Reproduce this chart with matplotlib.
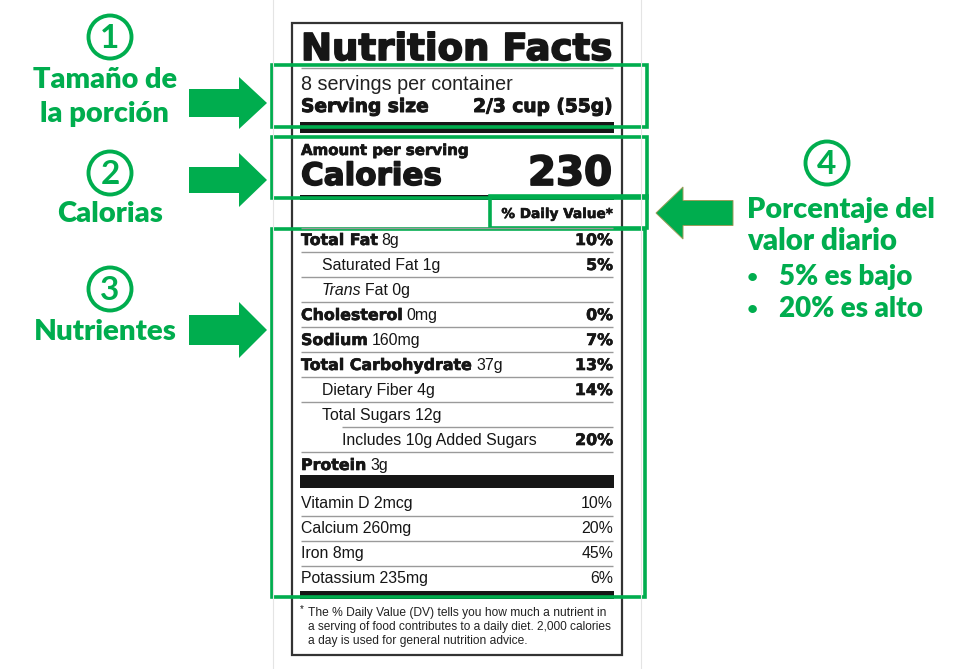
import matplotlib
matplotlib.use("Agg")
import matplotlib.pyplot as plt
import matplotlib.patheffects as pe
from matplotlib.patches import Rectangle, Circle, Polygon

# ---------------------------------------------------------
# label data
# ---------------------------------------------------------
title = "Nutrition Facts"
servings = "8 servings per container"
serving_size = "2/3 cup (55g)"
calories = "230"

nutrients = ["Total Fat", "Saturated Fat", "Trans Fat", "Cholesterol", "Sodium",
             "Total Carbohydrate", "Dietary Fiber", "Total Sugars",
             "Includes 10g Added Sugars", "Protein"]
amounts = ["8g", "1g", "0g", "0mg", "160mg", "37g", "4g", "12g", "", "3g"]
daily_values = ["10%", "5%", "", "0%", "7%", "13%", "14%", "", "20%", ""]
levels = [0, 1, 1, 0, 0, 0, 1, 1, 2, 0]

vitamins = ["Vitamin D", "Calcium", "Iron", "Potassium"]
vitamin_amounts = ["2mcg", "260mg", "8mg", "235mg"]
vitamin_dv = ["10%", "20%", "45%", "6%"]

footnote = ["The % Daily Value (DV) tells you how much a nutrient in",
            "a serving of food contributes to a daily diet. 2,000 calories",
            "a day is used for general nutrition advice."]

# annotations (spanish)
notes_left = [("1", ["Tamaño de", "la porción"]),
              ("2", ["Calorias"]),
              ("3", ["Nutrientes"])]
note_right_num = "4"
note_right = ["Porcentaje del", "valor diario"]
note_bullets = ["5% es bajo", "20% es alto"]

# ---------------------------------------------------------
# setup: one axes in pixel units
# ---------------------------------------------------------
W, H = 967, 669
fig = plt.figure(figsize=(W / 100, H / 100), dpi=100)
ax = fig.add_axes([0, 0, 1, 1])
ax.set_xlim(0, W)
ax.set_ylim(H, 0)
ax.axis("off")
renderer = fig.canvas.get_renderer()

INK = "#161616"
GREEN = "#00AD4E"
GRAY = "#9a9a9a"
REG = "Liberation Sans"
BLK = "DejaVu Sans"

L, R = 301, 613  # inner text edges of the label


def heavy(w):
    return [pe.withStroke(linewidth=w, foreground=INK)]


def width(t):
    return t.get_window_extent(renderer).width


def fit(t, target):
    t.set_fontsize(t.get_fontsize() * target / width(t))
    return t


def run(x, y, parts, size, gap=3.6):
    for s, fam, wt, st in parts:
        t = ax.text(x, y, s, fontsize=size, family=fam, weight=wt, style=st,
                    va="baseline", ha="left", color=INK,
                    path_effects=heavy(0.45) if wt == "bold" else None)
        x += width(t) + gap


def bold(x, y, s, size, stroke=0.45, **kw):
    return ax.text(x, y, s, family=BLK, weight="bold", fontsize=size, color=INK,
                   va="baseline", path_effects=heavy(stroke), **kw)


def hline(y, x0=L, x1=R, lw=1.0, c=GRAY):
    ax.plot([x0, x1], [y, y], color=c, lw=lw, solid_capstyle="butt")


def bar(y0, y1):
    ax.add_patch(Rectangle((L - 1, y0), R - L + 2, y1 - y0, color=INK, lw=0))


# faint page edges
for xp in (273, 641):
    ax.plot([xp, xp], [0, H], color="#e4e4e4", lw=0.8)

# label frame
ax.add_patch(Rectangle((292, 23), 330, 632, fill=False, ec="#333333", lw=1.6))

# header
t = bold(L, 60, title, 26.6, stroke=1.2)
fit(t, R - L - 1)
hline(68)
t = ax.text(L, 90, servings, family=REG, fontsize=14.3, color="#222222", va="baseline")
fit(t, 212)
bold(L, 112, "Serving size", 13.4, stroke=0.7)
bold(R, 112, serving_size, 13.4, stroke=0.7, ha="right")
bar(122, 133)

bold(L, 155, "Amount per serving", 10.8, stroke=0.5)
bold(L, 185, "Calories", 22.3, stroke=1.1)
bold(R - 1, 185, calories, 29.0, stroke=1.3, ha="right")
bar(195, 200)
bold(R, 218, "% Daily Value*", 9.8, stroke=0.4, ha="right")
hline(228)

# nutrient rows
FS = 11.4
indent = {0: L, 1: 322, 2: 342}
for i, (name, amt, dv, lv) in enumerate(zip(nutrients, amounts, daily_values, levels)):
    yb = 245 + 25 * i
    if lv == 0:
        parts = [(name, BLK, "bold", "normal")]
        if amt:
            parts.append((amt, REG, "normal", "normal"))
    elif name.startswith("Trans"):
        parts = [("Trans", REG, "normal", "italic"),
                 (name[6:] + " " + amt, REG, "normal", "normal")]
    else:
        parts = [((name + " " + amt).strip(), REG, "normal", "normal")]
    run(indent[lv], yb, parts, FS)
    if dv:
        bold(R, yb, dv, FS, ha="right")
    if i < len(nutrients) - 1:
        hline(252 + 25 * i, x0=indent[2] if lv == 1 and levels[i + 1] == 2 else L)

bar(475, 488)

for j, (name, amt, dv) in enumerate(zip(vitamins, vitamin_amounts, vitamin_dv)):
    yb = 508 + 25 * j
    run(L, yb, [(name + " " + amt, REG, "normal", "normal")], FS)
    ax.text(R, yb, dv, family=REG, fontsize=FS, color=INK, va="baseline", ha="right")
    if j < len(vitamins) - 1:
        hline(516 + 25 * j)

bar(591, 599)

# footnote
ax.text(L - 1, 612, "*", family=REG, fontsize=7, color=INK, va="baseline")
fw = [297, 304, 218]
for k, line in enumerate(footnote):
    t = ax.text(308, 616 + 14 * k, line, family=REG, fontsize=7.5, color="#222222",
                va="baseline")
    fit(t, fw[k])

# ---------------------------------------------------------
# green highlight boxes
# ---------------------------------------------------------
for (x0, y0, x1, y1) in [(272, 65, 647, 127), (272, 137, 647, 198),
                         (490, 196, 647, 228), (272, 229, 645, 597)]:
    ax.add_patch(Rectangle((x0, y0), x1 - x0, y1 - y0, fill=False, ec=GREEN, lw=2.6))


def arrow_right(tip_x, tip_y, tail_x, half_shaft, half_head, head_len):
    bx = tip_x - head_len
    pts = [(tail_x, tip_y - half_shaft), (bx, tip_y - half_shaft), (bx, tip_y - half_head),
           (tip_x, tip_y), (bx, tip_y + half_head), (bx, tip_y + half_shaft),
           (tail_x, tip_y + half_shaft)]
    return pts


ax.add_patch(Polygon(arrow_right(267, 103, 189, 14, 26, 28), color=GREEN, lw=0))
ax.add_patch(Polygon(arrow_right(267, 180, 189, 13, 27, 28), color=GREEN, lw=0))
ax.add_patch(Polygon(arrow_right(267, 330, 189, 15, 28, 28), color=GREEN, lw=0))
# left-pointing arrow (mirror of a right one)
pts = [(2 * 695 - x, y) for x, y in arrow_right(734, 213, 657, 12.5, 26, 27)]
ax.add_patch(Polygon(pts, fc=GREEN, ec="#9c9c5a", lw=0.7))

# ---------------------------------------------------------
# annotation text
# ---------------------------------------------------------
ANN = "Lato"
AWT = "heavy"


def badge(cx, cy, num):
    ax.add_patch(Circle((cx, cy), 21.5, fill=False, ec=GREEN, lw=2.8))
    ax.text(cx, cy + 1, num, family=ANN, weight="bold", fontsize=24, color=GREEN,
            ha="center", va="center")


badge_pos = [(110, 37), (110, 173), (110, 289)]
text_base = [[88, 122], [222], [340]]
text_w = [[144, 129], [106], [143]]
text_cx = [[105, 104], [110], [105]]
for (num, lines), (bx, by), bases, ws, cxs in zip(notes_left, badge_pos, text_base,
                                                  text_w, text_cx):
    badge(bx, by, num)
    for s, yb, w, cx in zip(lines, bases, ws, cxs):
        t = ax.text(cx, yb, s, family=ANN, weight=AWT, fontsize=18, color=GREEN,
                    ha="center", va="baseline")
        fit(t, w)

badge(827, 163, note_right_num)
for s, yb, w in zip(note_right, [218, 250], [188, 150]):
    t = ax.text(747, yb, s, family=ANN, weight=AWT, fontsize=18, color=GREEN,
                va="baseline")
    fit(t, w)
for s, yb, w in zip(note_bullets, [285, 317], [133, 144]):
    ax.text(752, yb - 2, "•", family=ANN, weight="bold", fontsize=14, color=GREEN,
            va="baseline", ha="center")
    t = ax.text(779, yb, s, family=ANN, weight=AWT, fontsize=18, color=GREEN,
                va="baseline")
    fit(t, w)

fig.savefig("out.png", dpi=100, facecolor="white")
